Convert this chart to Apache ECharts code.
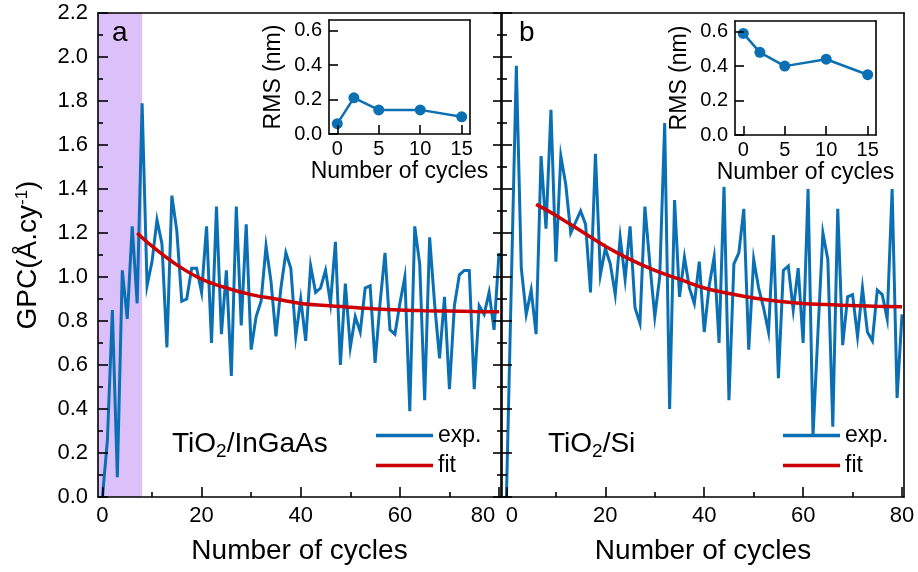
<!DOCTYPE html>
<html><head><meta charset="utf-8">
<script src="https://cdn.jsdelivr.net/npm/echarts@6/dist/echarts.min.js"></script>
<style>html,body{margin:0;padding:0;background:#fff}#c{width:918px;height:572px}</style>
</head><body><div id="c"></div>
<script>
// ---- data ----
const expA = [0.00,0.26,0.85,0.09,1.03,0.81,1.23,0.88,1.79,0.96,
  1.07,1.26,1.15,0.68,1.37,1.21,0.89,0.90,1.04,1.04,
  0.93,1.23,0.70,1.32,0.74,1.03,0.55,1.32,0.78,1.24,
  0.67,0.82,0.89,1.14,0.98,0.73,0.95,1.11,1.04,0.73,
  0.90,0.71,1.05,0.93,0.95,1.03,0.88,1.16,0.60,0.97,
  0.68,0.82,0.75,0.95,0.96,0.61,0.88,1.11,0.76,0.74,
  0.88,1.00,0.39,1.23,1.06,0.44,1.18,0.88,0.63,0.91,
  0.49,0.87,1.01,1.03,1.03,0.49,0.87,0.83,0.93,0.76,1.11];
const expB = [0.00,0.98,1.96,1.04,0.83,0.94,0.74,1.55,1.22,1.76,
  1.07,1.55,1.42,1.20,1.25,1.30,1.24,0.93,1.56,1.01,
  1.13,1.06,0.92,1.18,0.99,1.23,0.86,0.79,1.32,1.06,
  0.82,1.00,1.70,0.40,1.35,0.91,1.09,0.95,0.88,1.07,
  0.75,0.96,1.09,0.70,1.41,0.44,1.06,1.11,1.31,0.67,
  1.08,0.95,0.86,0.75,1.19,0.54,1.03,1.05,0.85,1.04,
  0.70,1.40,0.28,0.75,1.20,1.08,0.32,1.31,0.69,0.91,
  0.92,0.73,0.95,0.75,0.71,0.94,0.92,0.81,1.40,0.45,0.83];
const fitACycles = [7,10,15,20,25,30,35,40,45,50,55,60,65,70,75,80];
const fitAValues = [1.20,1.14,1.055,0.99,0.95,0.92,0.90,0.88,0.87,0.862,0.855,0.85,0.847,0.845,0.843,0.842];
const fitBCycles = [6,10,15,20,25,30,35,40,45,50,55,60,65,70,75,80];
const fitBValues = [1.33,1.28,1.21,1.14,1.08,1.03,0.99,0.95,0.925,0.905,0.89,0.88,0.875,0.87,0.867,0.865];
const rmsCycles = [0,2,5,10,15];
const rmsA = [0.06,0.21,0.14,0.14,0.10];
const rmsB = [0.59,0.48,0.40,0.44,0.35];
const xTicks = [0,20,40,60,80];
const xMinorTicks = [10,30,50,70];
const insetXTicks = [0,5,10,15];
const insetYTicks = [0,0.2,0.4,0.6];
const shadeCycles = [-0.9, 8];

// ---- styling ----
const FONT = 'Arial, "Liberation Sans", Helvetica, sans-serif';
const BLUE = '#0b6fb3', RED = '#cc0000', SHADE = '#dcc0fa', INK = '#000';
const LW = 1.6;
const XMIN = -0.9, XMAX = 80.4;
const baseLbl = {fontSize: 22, fontFamily: FONT, color: INK};

function lineOnly(gridIndex, position, extra) {
  return Object.assign({
    gridIndex, position, type: 'value', z: 10,
    axisLine: {show: true, onZero: false, lineStyle: {color: INK, width: LW}},
    axisTick: {show: false}, axisLabel: {show: false}, splitLine: {show: false}
  }, extra);
}
function mainX(gridIndex, formatter) {
  return [
    {gridIndex, type: 'value', position: 'bottom', min: XMIN, max: XMAX, z: 10,
     name: 'Number of cycles', nameLocation: 'middle', nameGap: 40,
     nameTextStyle: {fontSize: 28, fontFamily: FONT, color: INK},
     axisLine: {show: true, onZero: false, lineStyle: {color: INK, width: LW}},
     axisTick: {show: true, inside: true, length: 10, customValues: xTicks, lineStyle: {color: INK, width: LW}},
     axisLabel: Object.assign({show: true, customValues: xTicks, margin: 8, formatter,
       rich: {n: baseLbl,
              r: Object.assign({padding: [0, 32, 0, 0]}, baseLbl),
              l: Object.assign({padding: [0, 0, 0, 11]}, baseLbl)}}, baseLbl),
     splitLine: {show: false}},
    {gridIndex, type: 'value', position: 'bottom', min: XMIN, max: XMAX, z: 10,
     axisLine: {show: false},
     axisTick: {show: true, inside: true, length: 5, customValues: xMinorTicks, lineStyle: {color: INK, width: LW}},
     axisLabel: {show: false}, splitLine: {show: false}},
    lineOnly(gridIndex, 'top', {min: XMIN, max: XMAX})
  ];
}
function mainY(gridIndex, withLabels, rightTicks) {
  const left = {gridIndex, type: 'value', position: 'left', min: 0, max: 2.2, interval: 0.2, z: 10,
     axisLine: {show: true, onZero: false, lineStyle: {color: INK, width: LW}},
     axisTick: {show: true, inside: true, length: 10, lineStyle: {color: INK, width: LW}},
     minorTick: {show: true, splitNumber: 2, length: 5, lineStyle: {color: INK, width: LW}},
     axisLabel: Object.assign({show: withLabels, margin: 10, formatter: v => v.toFixed(1)}, baseLbl),
     splitLine: {show: false}};
  if (withLabels) {
    left.name = '{a|GPC(Å.cy}{b|-1}{a|)}';
    left.nameLocation = 'middle';
    left.nameGap = 56;
    left.nameTextStyle = {color: INK, rich: {
      a: {fontSize: 28, fontFamily: FONT, color: INK},
      b: {fontSize: 17, fontFamily: FONT, color: INK, verticalAlign: 'top'}}};
  }
  const right = rightTicks ?
    {gridIndex, type: 'value', position: 'right', min: 0, max: 2.2, interval: 0.2, z: 10,
     axisLine: {show: true, onZero: false, lineStyle: {color: INK, width: LW}},
     axisTick: {show: true, inside: true, length: 8, lineStyle: {color: INK, width: LW}},
     minorTick: {show: true, splitNumber: 2, length: 4, lineStyle: {color: INK, width: LW}},
     axisLabel: {show: false}, splitLine: {show: false}} :
    lineOnly(gridIndex, 'right', {min: 0, max: 2.2});
  return [left, right];
}
function insetX(gridIndex) {
  return [
    {gridIndex, type: 'value', position: 'bottom', min: -1, max: 16, z: 10,
     name: 'Number of cycles', nameLocation: 'middle', nameGap: 26,
     nameTextStyle: {fontSize: 23, fontFamily: FONT, color: INK},
     axisLine: {show: true, onZero: false, lineStyle: {color: INK, width: LW}},
     axisTick: {show: true, inside: true, length: 9, customValues: insetXTicks, lineStyle: {color: INK, width: LW}},
     axisLabel: {show: true, customValues: insetXTicks, fontSize: 20, fontFamily: FONT, color: INK, margin: 5},
     splitLine: {show: false}},
    lineOnly(gridIndex, 'top', {min: -1, max: 16})
  ];
}
function insetY(gridIndex) {
  return [
    {gridIndex, type: 'value', position: 'left', min: 0, max: 0.662, z: 10,
     name: 'RMS (nm)', nameLocation: 'middle', nameGap: 44,
     nameTextStyle: {fontSize: 23, fontFamily: FONT, color: INK},
     axisLine: {show: true, onZero: false, lineStyle: {color: INK, width: LW}},
     axisTick: {show: true, inside: true, length: 9, customValues: insetYTicks, lineStyle: {color: INK, width: LW}},
     axisLabel: {show: true, customValues: insetYTicks, fontSize: 20, fontFamily: FONT, color: INK, margin: 7,
                 formatter: v => v.toFixed(1)},
     splitLine: {show: false}},
    lineOnly(gridIndex, 'right', {min: 0, max: 0.662})
  ];
}

// left panel: last label nudged left; right panel: first label nudged right (as in the reference)
const fmtLeft = v => v === xTicks[xTicks.length - 1] ? '{r|' + v + '}' : '{n|' + v + '}';
const fmtRight = v => v === xTicks[0] ? '{l|' + v + '}' : '{n|' + v + '}';

const xAxis = [...mainX(0, fmtLeft), ...mainX(1, fmtRight), ...insetX(2), ...insetX(3)];
const yAxis = [...mainY(0, true, true), ...mainY(1, false, false), ...insetY(2), ...insetY(3)];

const pairs = (xs, ys) => xs.map((x, i) => [x, ys[i]]);
const indexed = ys => ys.map((v, i) => [i, v]);

function expSeries(xi, yi, data) {
  return {type: 'line', name: 'exp.', xAxisIndex: xi, yAxisIndex: yi, data: indexed(data),
    showSymbol: false, symbol: 'none', clip: true, z: 3, color: BLUE,
    lineStyle: {color: BLUE, width: 3, join: 'miter'}, itemStyle: {color: BLUE}};
}
function fitSeries(xi, yi, xs, ys) {
  return {type: 'line', name: 'fit', xAxisIndex: xi, yAxisIndex: yi, data: pairs(xs, ys),
    showSymbol: false, symbol: 'none', smooth: 0.4, clip: true, z: 4, color: RED,
    lineStyle: {color: RED, width: 3.5}, itemStyle: {color: RED}};
}
function rmsSeries(xi, yi, ys) {
  return {type: 'line', name: 'rms', xAxisIndex: xi, yAxisIndex: yi, data: pairs(rmsCycles, ys),
    symbol: 'circle', symbolSize: 11, showSymbol: true, z: 4, color: BLUE,
    lineStyle: {color: BLUE, width: 2.5}, itemStyle: {color: BLUE}};
}

const titleRich = {
  n: {fontSize: 28, fontFamily: FONT, color: INK, fontWeight: 'normal'},
  s: {fontSize: 19, fontFamily: FONT, color: INK, fontWeight: 'normal', verticalAlign: 'bottom', padding: [14, 0, 0, 0]}
};
const letterStyle = {fontSize: 28, fontFamily: FONT, color: INK, fontWeight: 'normal'};

const option = {
  backgroundColor: '#fff',
  animation: false,
  grid: [
    {left: 98, top: 13, width: 403, height: 484},
    {left: 502, top: 13, width: 402, height: 484},
    {left: 329, top: 20, width: 141, height: 114},
    {left: 735, top: 21, width: 141, height: 114}
  ],
  xAxis, yAxis,
  title: [
    {text: 'a', left: 112, top: 19, padding: 0, textStyle: letterStyle},
    {text: 'b', left: 519, top: 19, padding: 0, textStyle: letterStyle},
    {text: '{n|TiO}{s|2}{n|/InGaAs}', left: 172, top: 428, padding: 0, textStyle: {fontWeight: 'normal', rich: titleRich}},
    {text: '{n|TiO}{s|2}{n|/Si}', left: 548, top: 428, padding: 0, textStyle: {fontWeight: 'normal', rich: titleRich}}
  ],
  legend: [
    {left: 376, top: 424, orient: 'vertical', icon: 'rect', itemWidth: 57, itemHeight: 3.5, itemGap: 7, padding: 0,
     data: ['exp.', 'fit'], selectedMode: false, textStyle: {fontSize: 23, fontFamily: FONT, color: INK}},
    {left: 783, top: 424, orient: 'vertical', icon: 'rect', itemWidth: 57, itemHeight: 3.5, itemGap: 7, padding: 0,
     data: ['exp.', 'fit'], selectedMode: false, textStyle: {fontSize: 23, fontFamily: FONT, color: INK}}
  ],
  series: [
    {type: 'line', name: 'shade', xAxisIndex: 0, yAxisIndex: 0, data: [], z: 1, silent: true,
     markArea: {silent: true, itemStyle: {color: SHADE, opacity: 1},
       data: [[{xAxis: shadeCycles[0]}, {xAxis: shadeCycles[1]}]]}},
    expSeries(0, 0, expA),
    fitSeries(0, 0, fitACycles, fitAValues),
    expSeries(3, 2, expB),
    fitSeries(3, 2, fitBCycles, fitBValues),
    rmsSeries(6, 4, rmsA),
    rmsSeries(8, 6, rmsB)
  ]
};
const chart = echarts.init(document.getElementById('c'), null, {renderer: 'canvas'});
chart.setOption(option);
</script>
</body></html>
